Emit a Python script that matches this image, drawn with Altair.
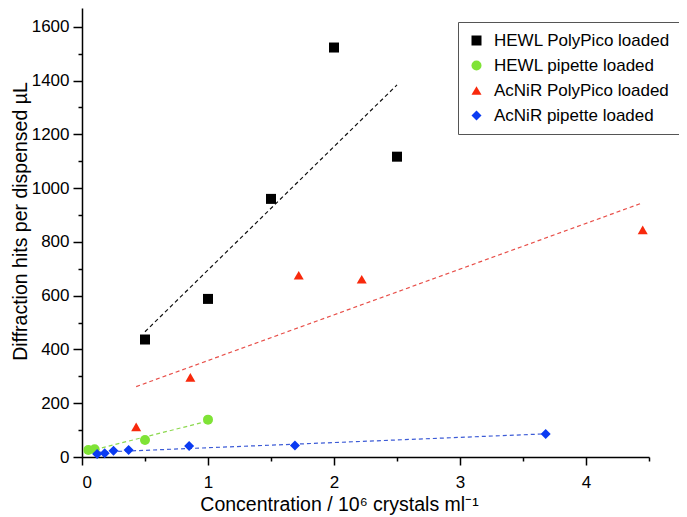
import altair as alt
import pandas as pd

groups = ["HEWL PolyPico loaded", "HEWL pipette loaded",
          "AcNiR PolyPico loaded", "AcNiR pipette loaded"]

hewl_pp_x = [0.5, 1.0, 1.5, 2.0, 2.5]
hewl_pp_y = [437, 588, 960, 1523, 1117]

hewl_pip_x = [0.05, 0.10, 0.50, 1.00]
hewl_pip_y = [26, 29, 63, 139]

acnir_pp_x = [0.43, 0.86, 1.72, 2.22, 4.45]
acnir_pp_y = [112, 296, 676, 661, 845]

acnir_pip_x = [0.12, 0.18, 0.25, 0.37, 0.85, 1.69, 3.68]
acnir_pip_y = [11, 14, 23, 26, 41, 43, 86]

marker_colors = ["#000000", "#7FE336", "#F8290C", "#0B3BF2"]
line_colors = ["#111111", "#8CD84E", "#E8504A", "#3C5BD6"]
shapes = ["square", "circle", "triangle-up", "diamond"]
sizes = [100, 100, 170, 170]

x_ticks = [0, 0.5, 1, 1.5, 2, 2.5, 3, 3.5, 4, 4.5]
y_ticks = [0, 100, 200, 300, 400, 500, 600, 700, 800, 900, 1000,
           1100, 1200, 1300, 1400, 1500, 1600]

rows = []
for g, xs, ys in zip(groups,
                     [hewl_pp_x, hewl_pip_x, acnir_pp_x, acnir_pip_x],
                     [hewl_pp_y, hewl_pip_y, acnir_pp_y, acnir_pip_y]):
    for xv, yv in zip(xs, ys):
        rows.append({"group": g, "x": xv, "y": yv})
df = pd.DataFrame(rows)

xscale = alt.Scale(domain=[0, 4.5], nice=False, zero=False)
yscale = alt.Scale(domain=[0, 1670], nice=False)

xaxis = alt.Axis(
    values=x_ticks,
    labelExpr="datum.value % 1 === 0 ? format(datum.value, 'd') : ''",
    tickSize={"condition": {"test": "datum.value % 1 === 0", "value": 8}, "value": 4},
    labelPadding=9,
    title="Concentration / 10\u2076 crystals ml\u207b\u00b9",
    titleX=257, titleY=47, titleBaseline="middle", titleAlign="center",
)
yaxis = alt.Axis(
    values=y_ticks,
    labelExpr="datum.value % 200 === 0 ? format(datum.value, 'd') : ''",
    tickSize={"condition": {"test": "datum.value % 200 === 0", "value": 9}, "value": 4},
    labelPadding=4,
    title="Diffraction hits per dispensed \u00b5L",
    titleX=-62, titleY=213, titleBaseline="middle", titleAlign="center",
)

line_layers = []
for g, lc in zip(groups, line_colors):
    line_layers.append(
        alt.Chart(df).transform_filter(alt.datum.group == g).transform_regression(
            "x", "y"
        ).mark_line(strokeDash=[4, 3], strokeWidth=1.2, color=lc).encode(
            x=alt.X("x:Q", scale=xscale, axis=xaxis),
            y=alt.Y("y:Q", scale=yscale, axis=yaxis),
        )
    )

legend = alt.Legend(
    title=None, orient="none", legendX=376, legendY=14,
    strokeColor="#555555", fillColor="white", padding=10,
    labelFont="Liberation Sans", labelFontSize=17, labelColor="black",
    labelLimit=0, rowPadding=7, labelOffset=9,
    symbolStrokeWidth=0,
)

points = alt.Chart(df).mark_point(filled=True, opacity=1).encode(
    x=alt.X("x:Q", scale=xscale, axis=xaxis),
    y=alt.Y("y:Q", scale=yscale, axis=yaxis),
    color=alt.Color("group:N", scale=alt.Scale(domain=groups, range=marker_colors), legend=legend),
    shape=alt.Shape("group:N", scale=alt.Scale(domain=groups, range=shapes), legend=legend),
    size=alt.Size("group:N", scale=alt.Scale(domain=groups, range=sizes), legend=legend),
)

chart = alt.layer(*line_layers, points).properties(
    width=567, height=449,
    autosize=alt.AutoSizeParams(type="none"),
    padding={"left": 74, "top": 0, "right": 30, "bottom": 60},
).configure_view(stroke=None).configure_axis(
    grid=False, domainColor="black", domainWidth=1.5,
    tickColor="black", tickWidth=1.5,
    labelFont="Liberation Sans", labelFontSize=17, labelColor="black",
    titleFont="Liberation Sans", titleFontSize=19.5, titleFontWeight="normal",
    titleColor="black",
)

chart.save("out.html", embed_options={"renderer": "svg", "actions": False})
